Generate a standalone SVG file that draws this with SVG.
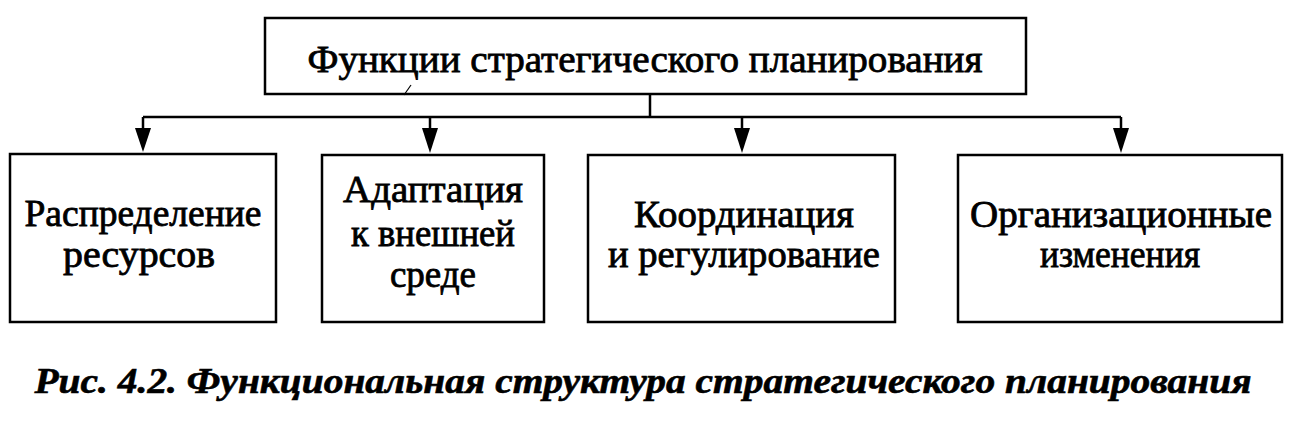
<svg xmlns="http://www.w3.org/2000/svg" width="1293" height="441" viewBox="0 0 1293 441">
<style>
.box{fill:#fff;stroke:#000;stroke-width:2.5}
.lbl{font-family:"Liberation Serif","Times New Roman",serif;font-size:37px;fill:#000;stroke:#000;stroke-width:0.8;text-anchor:middle}
.line{stroke:#000;stroke-width:2.5;fill:none}
.head{fill:#000}
.cap{font-family:"Liberation Serif","Times New Roman",serif;font-size:35px;font-weight:bold;font-style:italic;fill:#000;stroke:#000;stroke-width:0.6;text-anchor:middle}
</style>
<rect width="1293" height="441" fill="#fff"/>
<g id="connectors">
<line class="line" x1="650" y1="94" x2="650" y2="117"/>
<line class="line" x1="143" y1="117" x2="1121" y2="117"/>
<path d="M143,117 V140" class="line"/>
<path class="head" d="M135,128 L151,128 L143,152 z"/>
<path d="M430,117 V140" class="line"/>
<path class="head" d="M422,128 L438,128 L430,153 z"/>
<path d="M742,117 V140" class="line"/>
<path class="head" d="M734,128 L750,128 L742,153 z"/>
<path d="M1121,117 V140" class="line"/>
<path class="head" d="M1113,128 L1129,128 L1121,153 z"/>
</g>
<g id="top">
<rect class="box" x="265" y="18" width="761" height="76"/>
<text class="lbl" x="645" y="72" font-size="39" textLength="675" lengthAdjust="spacingAndGlyphs">Функции стратегического планирования</text>
<line x1="404" y1="95" x2="411" y2="85" stroke="#000" stroke-width="1.2"/>
</g>
<g id="n1">
<rect class="box" x="10" y="154" width="266" height="168"/>
<text class="lbl" x="143" y="226" textLength="237" lengthAdjust="spacingAndGlyphs">Распределение</text>
<text class="lbl" x="139" y="267" textLength="152" lengthAdjust="spacingAndGlyphs">ресурсов</text>
</g>
<g id="n2">
<rect class="box" x="322" y="155" width="222" height="167"/>
<text class="lbl" x="433" y="202" textLength="180" lengthAdjust="spacingAndGlyphs">Адаптация</text>
<text class="lbl" x="433" y="246" textLength="164" lengthAdjust="spacingAndGlyphs">к внешней</text>
<text class="lbl" x="433" y="287">среде</text>
</g>
<g id="n3">
<rect class="box" x="588" y="155" width="307" height="167"/>
<text class="lbl" x="744" y="227" textLength="220" lengthAdjust="spacingAndGlyphs">Координация</text>
<text class="lbl" x="744" y="267" textLength="272" lengthAdjust="spacingAndGlyphs">и регулирование</text>
</g>
<g id="n4">
<rect class="box" x="958" y="155" width="324" height="167"/>
<text class="lbl" x="1121" y="227" textLength="302" lengthAdjust="spacingAndGlyphs">Организационные</text>
<text class="lbl" x="1120" y="267" textLength="160" lengthAdjust="spacingAndGlyphs">изменения</text>
</g>
<text class="cap" x="643" y="393" textLength="1217" lengthAdjust="spacingAndGlyphs">Рис. 4.2. Функциональная структура стратегического планирования</text>
</svg>
